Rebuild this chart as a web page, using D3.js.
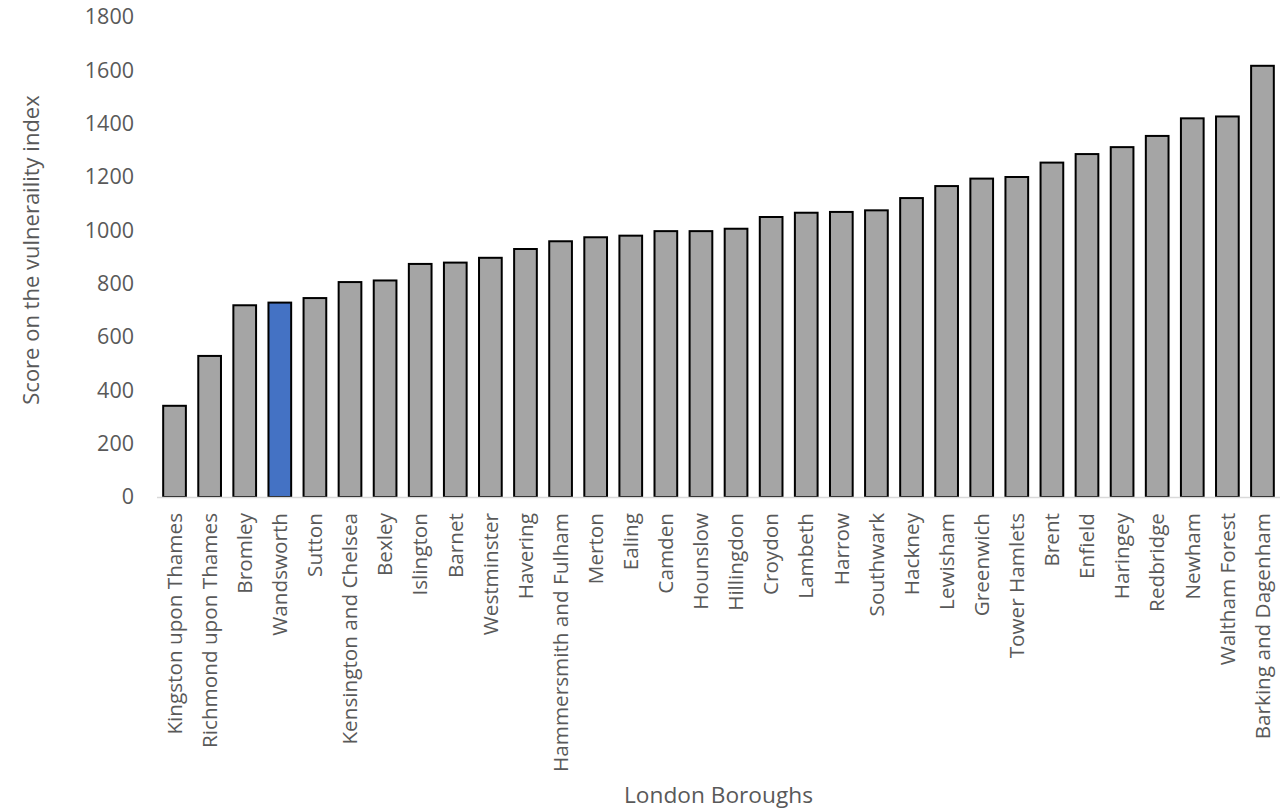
<!DOCTYPE html>
<html>
<head>
<meta charset="utf-8">
<script src="https://cdn.jsdelivr.net/npm/d3@7"></script>
<style>
  html, body { margin: 0; padding: 0; background: #ffffff; }
  svg { display: block; }
  text { font-family: "Open Sans", "Noto Sans", sans-serif; fill: #595959; }
</style>
</head>
<body>
<svg id="chart" width="1284" height="812"></svg>
<script>
// Boroughs in ascending order of vulnerability score
const boroughs = [
  "Kingston upon Thames", "Richmond upon Thames", "Bromley", "Wandsworth", "Sutton",
  "Kensington and Chelsea", "Bexley", "Islington", "Barnet", "Westminster",
  "Havering", "Hammersmith and Fulham", "Merton", "Ealing", "Camden",
  "Hounslow", "Hillingdon", "Croydon", "Lambeth", "Harrow",
  "Southwark", "Hackney", "Lewisham", "Greenwich", "Tower Hamlets",
  "Brent", "Enfield", "Haringey", "Redbridge", "Newham",
  "Waltham Forest", "Barking and Dagenham"
];
const scores = [
  342, 529, 719, 729, 746,
  806, 812, 874, 879, 897,
  930, 959, 974, 980, 997,
  997, 1006, 1050, 1066, 1069,
  1075, 1121, 1166, 1194, 1200,
  1254, 1286, 1312, 1354, 1420,
  1427, 1617
];
const highlighted = ["Wandsworth"];
const yTicks = [0, 200, 400, 600, 800, 1000, 1200, 1400, 1600, 1800];

const svg = d3.select("#chart");
const plot = { left: 157, right: 1280, top: 17, bottom: 497 };

const x = d3.scaleBand()
  .domain(boroughs)
  .range([plot.left, plot.right])
  .paddingInner(0.353)
  .paddingOuter(0.176);

const y = d3.scaleLinear()
  .domain([0, 1800])
  .range([plot.bottom, plot.top]);

// Value axis: labels only
const yAxis = d3.axisLeft(y).tickValues(yTicks).tickSize(0).tickPadding(0).tickFormat(d3.format("d"));
const gy = svg.append("g")
  .attr("transform", `translate(${plot.left - 23},0)`)
  .call(yAxis);
gy.select(".domain").remove();
gy.selectAll("text")
  .attr("font-size", "21.5px")
  .attr("fill", "#595959")
  .style("font-family", "'Open Sans', sans-serif");

// Bars
const data = boroughs.map((b, i) => ({ name: b, value: scores[i] }));
svg.append("g")
  .selectAll("rect")
  .data(data)
  .join("rect")
  .attr("x", d => x(d.name))
  .attr("y", d => y(d.value))
  .attr("width", x.bandwidth())
  .attr("height", d => y(0) - y(d.value))
  .attr("fill", d => highlighted.includes(d.name) ? "#4472c4" : "#a5a5a5")
  .attr("stroke", "#000000")
  .attr("stroke-width", 2);

// Category axis
const xAxis = d3.axisBottom(x).tickSize(0).tickPadding(0);
const gx = svg.append("g")
  .attr("transform", `translate(0,${plot.bottom})`)
  .call(xAxis);
gx.select(".domain")
  .attr("stroke", "#d9d9d9")
  .attr("stroke-width", 1.3)
  .attr("d", `M${plot.left},0.5H${plot.right}`);
gx.selectAll("text")
  .attr("font-size", "20.7px")
  .attr("fill", "#595959")
  .style("font-family", "'Open Sans', sans-serif")
  .attr("text-anchor", "end")
  .attr("dy", "0.35em")
  .attr("transform", "translate(0,16) rotate(-90)")
  .attr("x", 0)
  .attr("y", 0);

// Axis titles
svg.append("text")
  .attr("x", (plot.left + plot.right) / 2)
  .attr("y", 803)
  .attr("text-anchor", "middle")
  .attr("font-size", "22.7px")
  .text("London Boroughs");

svg.append("text")
  .attr("transform", `translate(39,250) rotate(-90)`)
  .attr("text-anchor", "middle")
  .attr("font-size", "22px")
  .text("Score on the vulneraility index");
</script>
</body>
</html>
